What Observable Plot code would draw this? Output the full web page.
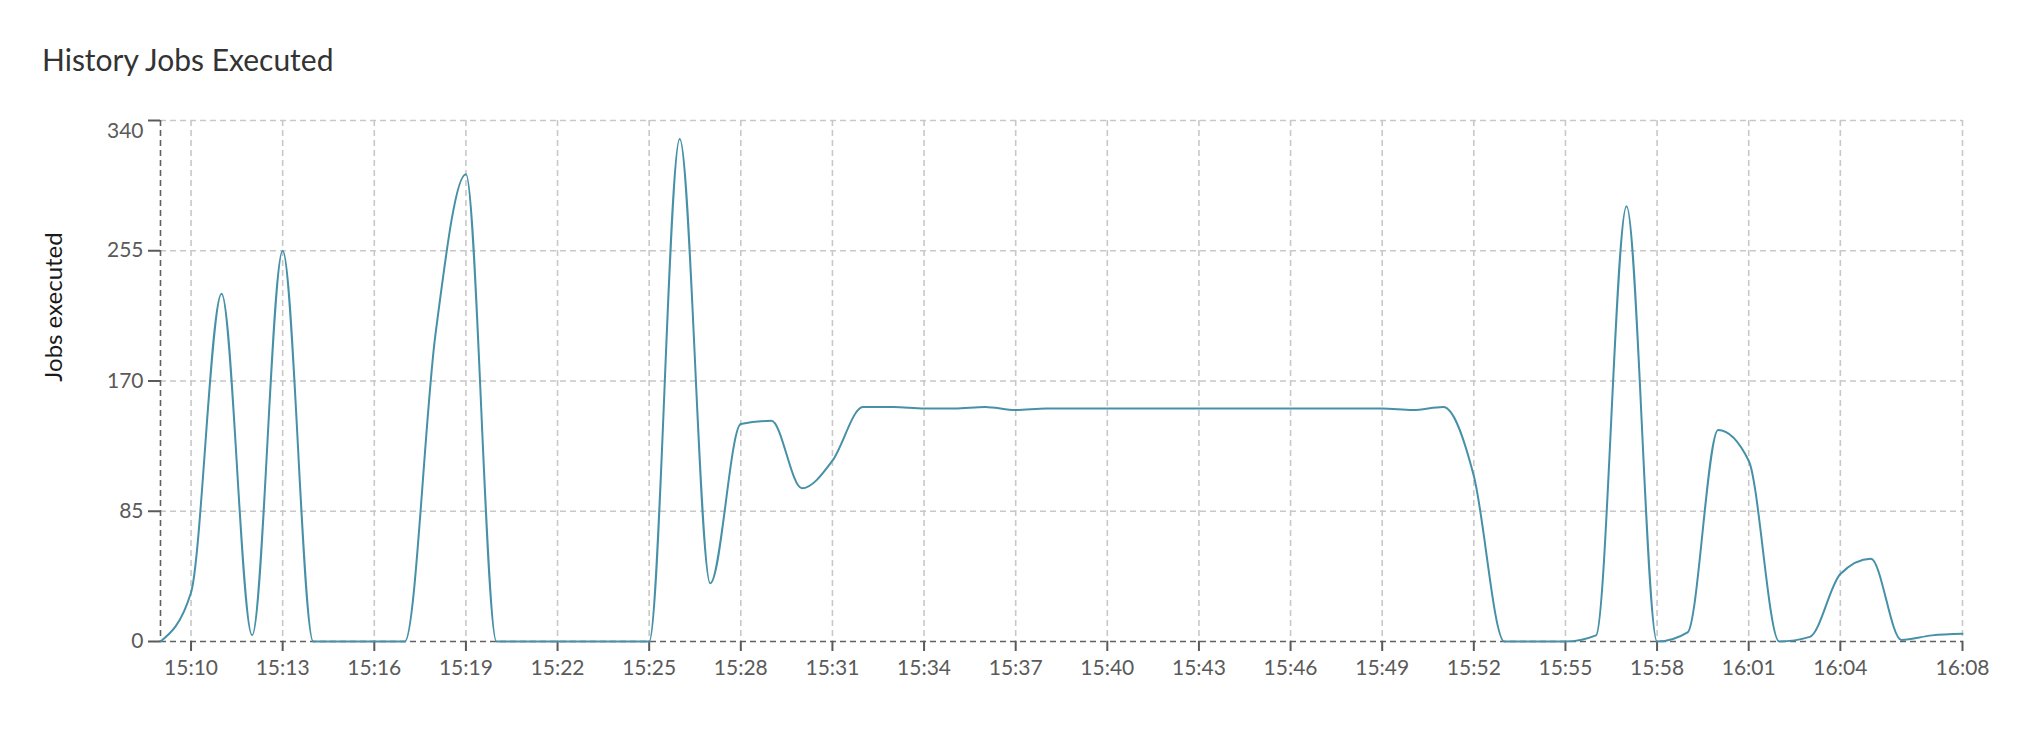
<!DOCTYPE html>
<html>
<head>
<meta charset="utf-8">
<script src="https://cdn.jsdelivr.net/npm/d3@7"></script>
<script src="https://cdn.jsdelivr.net/npm/@observablehq/plot@0.6"></script>
<style>
  html, body { margin: 0; padding: 0; background: #fff; width: 2032px; height: 732px; overflow: hidden; }
  #title { position: absolute; left: 42px; top: 44px; font-family: Lato, "Open Sans", sans-serif; font-size: 30px; line-height: 30px; color: #333; white-space: nowrap; }
  #chart { position: absolute; left: 0; top: 90px; }
</style>
</head>
<body>
<div id="title">History Jobs Executed</div>
<div id="chart"></div>
<script>
// Minutes (HH:MM) and jobs executed per minute
const times = [
  "15:09","15:10","15:11","15:12","15:13","15:14","15:15","15:16","15:17","15:18",
  "15:19","15:20","15:21","15:22","15:23","15:24","15:25","15:26","15:27","15:28",
  "15:29","15:30","15:31","15:32","15:33","15:34","15:35","15:36","15:37","15:38",
  "15:39","15:40","15:41","15:42","15:43","15:44","15:45","15:46","15:47","15:48",
  "15:49","15:50","15:51","15:52","15:53","15:54","15:55","15:56","15:57","15:58",
  "15:59","16:00","16:01","16:02","16:03","16:04","16:05","16:06","16:07","16:08"
];
const jobs = [
  0, 32, 227, 4, 255, 0, 0, 0, 0, 200,
  305, 0, 0, 0, 0, 0, 0, 328, 38, 142,
  144, 100, 118, 153, 153, 152, 152, 153, 151, 152,
  152, 152, 152, 152, 152, 152, 152, 152, 152, 152,
  152, 151, 153, 108, 0, 0, 0, 4, 284, 0,
  6, 138, 118, 0, 3, 44, 54, 1, 4, 5
];
const xTickLabels = ["15:10","15:13","15:16","15:19","15:22","15:25","15:28","15:31","15:34","15:37",
  "15:40","15:43","15:46","15:49","15:52","15:55","15:58","16:01","16:04","16:08"];
const yTickValues = [0, 85, 170, 255, 340];
const yLabel = "Jobs executed";

const parseT = s => { const [h, m] = s.split(":").map(Number); return new Date(2024, 0, 1, h, m); };
const data = times.map((t, i) => ({ time: parseT(t), jobs: jobs[i] }));
const xTicks = xTickLabels.map(parseT);
const xDomain = [parseT(times[0]), parseT(times[times.length - 1])];
const fmt = d3.timeFormat("%H:%M");

const gridStyle = { stroke: "#c8c8c8", strokeOpacity: 1, strokeWidth: 1.6, strokeDasharray: "6,4" };
const axisLineStyle = { stroke: "#606060", strokeWidth: 1.6, strokeDasharray: "6,4" };

const chart = Plot.plot({
  width: 2032,
  height: 642,
  marginLeft: 160,
  marginRight: 70,
  marginTop: 30,
  marginBottom: 91,
  style: { fontFamily: "Lato, 'Open Sans', sans-serif", fontSize: "21px", color: "#5a5a5a", background: "#fff" },
  x: { type: "time", domain: xDomain },
  y: { domain: [0, 340] },
  marks: [
    Plot.gridY(yTickValues.slice(1), gridStyle),
    Plot.gridX(xTicks, gridStyle),
    Plot.ruleY([0], axisLineStyle),
    Plot.ruleX([xDomain[0]], axisLineStyle),
    Plot.axisX(xTicks, { tickFormat: fmt, tickSize: 10, tickPadding: 9, strokeWidth: 2, label: null }),
    Plot.axisY(yTickValues, { tickFormat: d => d === 340 ? "" : String(d), tickSize: 12, tickPadding: 5, strokeWidth: 2, label: null }),
    Plot.text([340], { y: d => d, text: d => String(d), frameAnchor: "left", textAnchor: "end", dx: -17, dy: 11, fill: "#5a5a5a" }),
    Plot.line(data, { x: "time", y: "jobs", curve: "monotone-x", stroke: "#4690a8", strokeWidth: 2 })
  ]
});

d3.select(chart).append("text")
  .attr("transform", "translate(52,217) rotate(-90)")
  .attr("text-anchor", "middle")
  .attr("dominant-baseline", "central")
  .attr("font-size", 24)
  .attr("fill", "#1a1a1a")
  .text(yLabel);

document.getElementById("chart").appendChild(chart);
</script>
</body>
</html>
